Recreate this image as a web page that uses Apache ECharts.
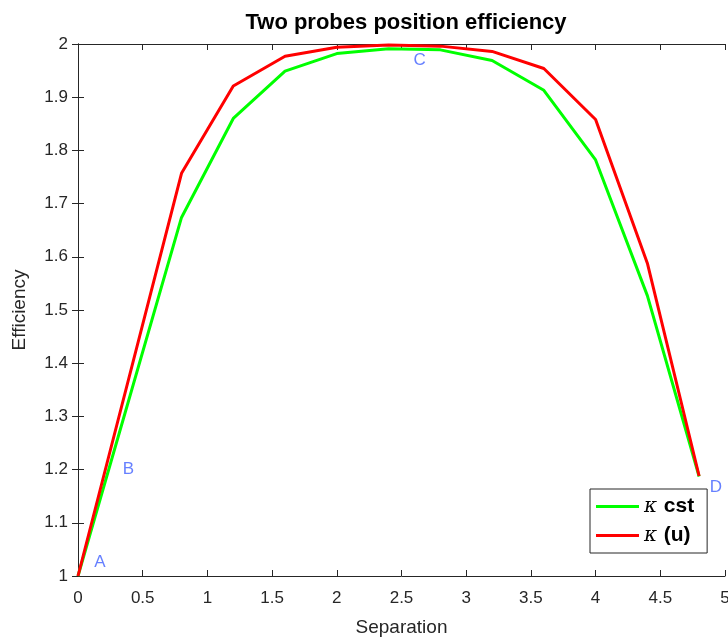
<!DOCTYPE html>
<html>
<head>
<meta charset="utf-8">
<script src="https://cdn.jsdelivr.net/npm/echarts@6/dist/echarts.min.js"></script>
<style>
html,body{margin:0;padding:0;background:#fff;}
#c{width:728px;height:639px;}
</style>
</head>
<body>
<div id="c"></div>
<script>
var separation = [0, 0.8, 1.2, 1.6, 2.0, 2.4, 2.8, 3.2, 3.6, 4.0, 4.4, 4.8];
var effCst = [1.0, 1.674, 1.860, 1.949, 1.982, 1.991, 1.989, 1.969, 1.913, 1.782, 1.527, 1.187];
var effU   = [1.0, 1.757, 1.921, 1.977, 1.994, 1.998, 1.996, 1.986, 1.954, 1.858, 1.588, 1.188];
var annotations = [[0.17, 1.025, 'A'], [0.39, 1.2, 'B'], [2.64, 1.97, 'C'], [4.93, 1.167, 'D']];
var titleText = 'Two probes position efficiency';
var xLabel = 'Separation';
var yLabel = 'Efficiency';

function pairs(xs, ys){ return xs.map(function(x,i){ return [x, ys[i]]; }); }

var axisColor = '#262626';
var font = 'Liberation Sans, Arial, Helvetica, sans-serif';

var chart = echarts.init(document.getElementById('c'), null, {renderer:'canvas'});
chart.setOption({
  animation: false,
  backgroundColor: '#fff',
  title: {
    text: titleText, left: 401, top: 7, textAlign: 'center',
    textStyle: {fontFamily: font, fontWeight: 'bold', fontSize: 22, color: '#000'}
  },
  grid: {left: 78, right: 3, top: 44, bottom: 63, containLabel: false, outerBoundsMode: 'none'},
  xAxis: [{
    type: 'value', min: 0, max: 5, interval: 0.5,
    name: xLabel, nameLocation: 'middle', nameGap: 42,
    nameTextStyle: {fontFamily: font, fontSize: 19, color: axisColor},
    axisLine: {show: true, lineStyle: {color: axisColor, width: 1}},
    axisTick: {show: true, inside: true, length: 6, lineStyle: {color: axisColor}},
    axisLabel: {fontFamily: font, fontSize: 17, color: axisColor, margin: 14},
    splitLine: {show: false}
  }, {
    type: 'value', min: 0, max: 5, interval: 0.5, position: 'top',
    axisLine: {show: true, lineStyle: {color: axisColor, width: 1}},
    axisTick: {show: true, inside: true, length: 6, lineStyle: {color: axisColor}},
    axisLabel: {show: false}, splitLine: {show: false}
  }],
  yAxis: [{
    type: 'value', min: 1, max: 2, interval: 0.1,
    name: yLabel, nameLocation: 'middle', nameGap: 49, nameRotate: 90,
    nameTextStyle: {fontFamily: font, fontSize: 19, color: axisColor},
    axisLine: {show: true, lineStyle: {color: axisColor, width: 1}},
    axisTick: {show: true, inside: true, length: 6, lineStyle: {color: axisColor}},
    axisLabel: {fontFamily: font, fontSize: 17, color: axisColor, margin: 10,
      formatter: function(v){ return (+v.toFixed(1)).toString(); }},
    splitLine: {show: false}
  }, {
    type: 'value', min: 1, max: 2, interval: 0.1, position: 'right',
    axisLine: {show: true, lineStyle: {color: axisColor, width: 1}},
    axisTick: {show: true, inside: true, length: 6, lineStyle: {color: axisColor}},
    axisLabel: {show: false}, splitLine: {show: false}
  }],
  legend: {
    data: ['κ cst', 'κ (u)'],
    orient: 'vertical', left: 590, top: 489,
    padding: [7, 13, 7, 6], itemGap: 8,
    itemWidth: 43, itemHeight: 3, icon: 'rect',
    backgroundColor: '#fff', borderColor: axisColor, borderWidth: 1,
    formatter: function(name){
      var parts = name.split(' ');
      return '{k|' + parts[0] + '}  {b|' + parts.slice(1).join(' ') + '}';
    },
    textStyle: {
      rich: {
        k: {fontFamily: 'DejaVu Serif, serif', fontStyle: 'italic', fontSize: 20, color: '#000', lineHeight: 22},
        b: {fontFamily: font, fontWeight: 'bold', fontSize: 21, color: '#000', lineHeight: 22}
      }
    }
  },
  series: [{
    name: 'κ cst', type: 'line', data: pairs(separation, effCst),
    showSymbol: false, symbol: 'none',
    lineStyle: {color: '#00ff00', width: 3}, itemStyle: {color: '#00ff00'}, z: 3
  }, {
    name: 'κ (u)', type: 'line', data: pairs(separation, effU),
    showSymbol: false, symbol: 'none',
    lineStyle: {color: '#ff0000', width: 3}, itemStyle: {color: '#ff0000'}, z: 4
  }, {
    name: 'labels', type: 'scatter', data: annotations,
    symbolSize: 0, silent: true, z: 5,
    label: {show: true, position: 'inside', formatter: function(p){ return p.data[2]; },
      fontFamily: font, fontSize: 17, color: '#4060ff'}
  }]
});
</script>
</body>
</html>
